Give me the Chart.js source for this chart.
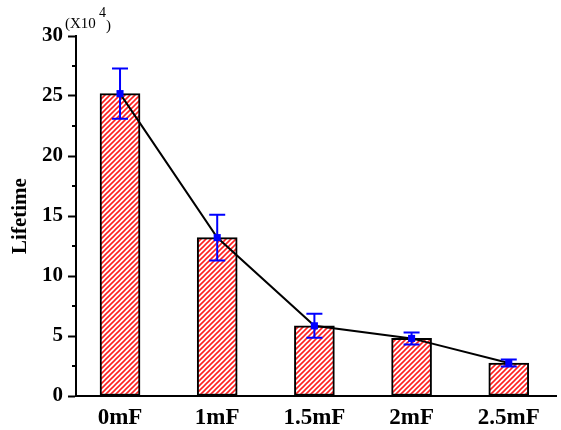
<!DOCTYPE html>
<html>
<head>
<meta charset="utf-8">
<script src="https://cdn.jsdelivr.net/npm/chart.js@4.4.0/dist/chart.umd.min.js"></script>
<style>
  body { margin: 0; background: #fff; }
  canvas { display: block; }
</style>
</head>
<body>
<canvas id="myChart" width="561" height="430"></canvas>
<script>
// data (values in units of 10^4)
const categories = ['0mF', '1mF', '1.5mF', '2mF', '2.5mF'];
const lifetime = [25.2, 13.2, 5.85, 4.8, 2.75];
const errors = [2.1, 1.9, 1.0, 0.5, 0.3];
const yTicks = [0, 5, 10, 15, 20, 25, 30];
const yMinorTicks = [2.5, 7.5, 12.5, 17.5, 22.5, 27.5];

const serif = "'Liberation Serif', 'Times New Roman', serif";

// red diagonal hatching for the bars
function makeHatch() {
    let c = document.createElement('canvas');
    c.width = 5;
    c.height = 5;
    let g = c.getContext('2d');
    g.fillStyle = '#fff';
    g.fillRect(0, 0, 5, 5);
    g.strokeStyle = '#ff2020';
    g.lineWidth = 1.6;
    g.beginPath();
    g.moveTo(0, 5); g.lineTo(5, 0);
    g.moveTo(-1, 1); g.lineTo(1, -1);
    g.moveTo(4, 6); g.lineTo(6, 4);
    g.stroke();
    return g.createPattern(c, 'repeat');
}

let ctx = document.getElementById('myChart').getContext('2d');
let hatch = makeHatch();

let points = lifetime.map((v, i) => ({ x: i, y: v }));

// error bars, minor ticks and the (X10^4) note
const extras = {
    id: 'extras',
    afterDatasetsDraw(chart) {
        const c = chart.ctx;
        const xs = chart.scales.x, ys = chart.scales.y;
        c.save();
        c.strokeStyle = '#0000ff';
        c.lineWidth = 2;
        lifetime.forEach((v, i) => {
            let px = xs.getPixelForValue(i);
            let top = ys.getPixelForValue(v + errors[i]);
            let bot = ys.getPixelForValue(v - errors[i]);
            c.beginPath();
            c.moveTo(px, top); c.lineTo(px, bot);
            c.moveTo(px - 8, top); c.lineTo(px + 8, top);
            c.moveTo(px - 8, bot); c.lineTo(px + 8, bot);
            c.stroke();
        });
        c.restore();
    },
    afterDraw(chart) {
        const c = chart.ctx;
        const ys = chart.scales.y;
        const left = chart.chartArea.left;
        c.save();
        c.strokeStyle = '#000';
        c.lineWidth = 2;
        yMinorTicks.forEach(v => {
            let py = Math.round(ys.getPixelForValue(v));
            c.beginPath();
            c.moveTo(left - 4, py); c.lineTo(left, py);
            c.stroke();
        });
        c.fillStyle = '#000';
        c.textBaseline = 'alphabetic';
        c.font = '15px ' + serif;
        c.fillText('(X10', 65, 28);
        c.fillText(')', 106, 30);
        c.font = '14px ' + serif;
        c.fillText('4', 99, 17);
        c.restore();
    }
};

let lifeChart = new Chart(ctx, {
    type: 'bar',
    data: {
        datasets: [{
            type: 'line',
            data: points,
            order: 1,
            borderColor: '#000',
            borderWidth: 2,
            tension: 0,
            pointStyle: 'rect',
            pointRadius: 5,
            pointBackgroundColor: '#0000ff',
            pointBorderColor: '#0000ff',
            pointBorderWidth: 0
        }, {
            type: 'bar',
            data: points,
            order: 2,
            backgroundColor: hatch,
            borderColor: '#000',
            borderWidth: 2,
            borderSkipped: false,
            barThickness: 40
        }]
    },
    options: {
        responsive: false,
        animation: false,
        layout: { padding: { top: 36, right: 0, left: 0, bottom: 0 } },
        plugins: {
            legend: { display: false },
            tooltip: { enabled: false }
        },
        scales: {
            x: {
                type: 'linear',
                bounds: 'data',
                offset: false,
                min: -0.453,
                max: 4.486,
                afterBuildTicks: s => { s.ticks = categories.map((c, i) => ({ value: i })); },
                afterFit: s => { s.height = 34; },
                grid: { display: true, drawOnChartArea: false, drawTicks: false, offset: false },
                border: { display: true, color: '#000', width: 2 },
                ticks: {
                    padding: 8,
                    color: '#000',
                    font: { family: serif, size: 23, weight: 'bold' },
                    callback: v => categories[v]
                }
            },
            y: {
                min: 0,
                max: 30,
                afterBuildTicks: s => { s.ticks = yTicks.map(v => ({ value: v })); },
                afterFit: s => { s.width = 76; },
                grid: { drawOnChartArea: false, tickLength: 8, tickWidth: 2, tickColor: '#000' },
                border: { display: true, color: '#000', width: 2 },
                ticks: {
                    padding: 5,
                    color: '#000',
                    font: { family: serif, size: 21, weight: 'bold' }
                },
                title: {
                    display: true,
                    text: 'Lifetime',
                    color: '#000',
                    padding: { top: 8, bottom: 0 },
                    font: { family: serif, size: 21, weight: 'bold' }
                }
            }
        }
    },
    plugins: [extras]
});
</script>
</body>
</html>
